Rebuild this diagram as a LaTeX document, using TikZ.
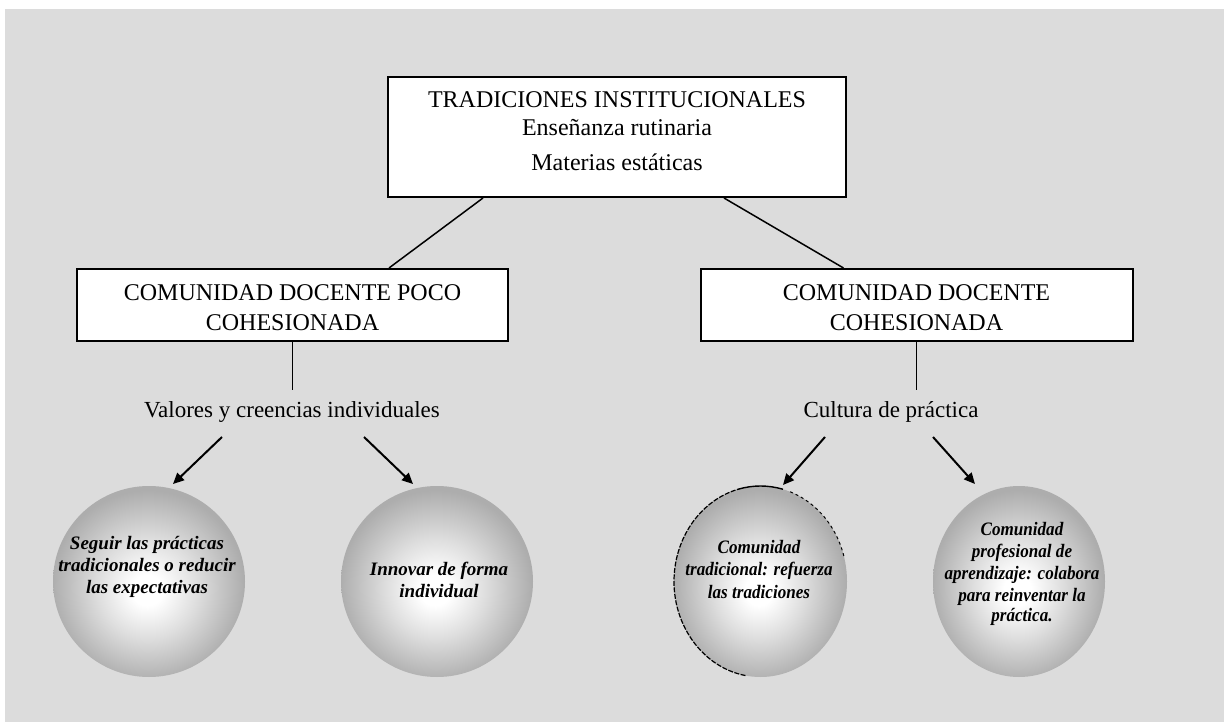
\documentclass[tikz,border=0pt]{standalone}
\usepackage{fontspec}
\setmainfont{Liberation Serif}
\newfontfamily\orbfont{Liberation Serif}
\newfontfamily\orbnarrow{Liberation Serif}[FakeStretch=0.9]
\usetikzlibrary{arrows.meta,shapes.geometric}

\definecolor{panelgray}{HTML}{DCDCDC}
\definecolor{orbgray}{gray}{0.68}
\definecolor{orbmid}{gray}{0.87}
% soft sphere look: white core slightly below the middle, grey rim
\pgfdeclareradialshading{orbshade}{\pgfpoint{-0.5bp}{-2.5bp}}{%
  color(0bp)=(white); color(4bp)=(white); color(13bp)=(orbmid); color(25bp)=(orbgray); color(50bp)=(orbgray)}

\begin{document}
\begin{tikzpicture}[x=1pt,y=-1pt,
  box/.style={draw=black, line width=2pt, fill=white, inner sep=0pt},
  boxtext/.style={anchor=base, inner sep=0pt, font=\fontsize{24}{28}\selectfont},
  labeltext/.style={anchor=base, inner sep=0pt, font=\fontsize{23}{27}\selectfont},
  orbtext/.style={anchor=base, inner sep=0pt, font=\orbfont\bfseries\itshape\fontsize{19}{22}\selectfont},
  orbtextn/.style={anchor=base, inner sep=0pt, font=\orbnarrow\bfseries\itshape\fontsize{19}{22}\selectfont},
  link/.style={line width=1.5pt, draw=black},
  arr/.style={line width=2pt, draw=black, -{Triangle[length=11pt,width=10pt]}},
  orb/.style={ellipse, inner sep=0pt, shading=orbshade, draw=none}
]
\useasboundingbox (0,0) rectangle (1224,722);
\fill[white] (0,0) rectangle (1224,722);
\fill[panelgray] (5,9) rectangle (1224,722);

% boxes
\node[box, minimum width=458pt, minimum height=120pt] (top) at (617,137) {};
\node[box, minimum width=431pt, minimum height=72pt] (left) at (292.5,305) {};
\node[box, minimum width=432pt, minimum height=72pt] (right) at (916.5,305) {};

\node[boxtext] (top1) at (617,108) {TRADICIONES INSTITUCIONALES};
\node[boxtext] (top2) at (617,136) {Enseñanza rutinaria};
\node[boxtext] (top3) at (617,171) {Materias estáticas};

\node[boxtext] (left1) at (292.5,300) {COMUNIDAD DOCENTE POCO};
\node[boxtext] (left2) at (292.5,330) {COHESIONADA};
\node[boxtext] (right1) at (916.5,300) {COMUNIDAD DOCENTE};
\node[boxtext] (right2) at (916.5,330) {COHESIONADA};

% links between the boxes
\draw[link] ([xshift=96pt]top.south west) -- ([xshift=313pt]left.north west);
\draw[link] ([xshift=337pt]top.south west) -- ([xshift=144pt]right.north west);

% stems down to the labels
\coordinate (vl) at (292.5,390);
\coordinate (vr) at (916.5,390);
\draw[link] (left.south) -- (vl);
\draw[link] (right.south) -- (vr);

\node[labeltext] (val) at (292,417) {Valores y creencias individuales};
\node[labeltext] (cul) at (891,417) {Cultura de práctica};

% spheres
\node[orb, minimum width=192pt, minimum height=191pt] (c1) at (149,581.5) {};
\node[orb, minimum width=192pt, minimum height=191pt] (c2) at (437,581.5) {};
\node[orb, minimum width=173pt, minimum height=191pt] (c3) at (760.5,581.5) {};
\node[orb, minimum width=172pt, minimum height=191pt] (c4) at (1019,581.5) {};

% broken rim on the third sphere
\draw[line width=1.2pt, dash pattern=on 5pt off 1.5pt]
  ([shift={(100:86.5 and 95.5)}]c3.center) arc[start angle=100, end angle=255, x radius=86.5, y radius=95.5];
\draw[line width=1.4pt]
  ([shift={(255:86.5 and 95.5)}]c3.center) arc[start angle=255, end angle=285, x radius=86.5, y radius=95.5];
\draw[line width=1pt, dash pattern=on 3pt off 3pt]
  ([shift={(290:86.5 and 95.5)}]c3.center) arc[start angle=290, end angle=345, x radius=86.5, y radius=95.5];

% arrows from the labels to the spheres
\coordinate (a1s) at (222,437); \coordinate (a1e) at (173,484);
\coordinate (a2s) at (364,437); \coordinate (a2e) at (413,484);
\coordinate (a3s) at (825,437); \coordinate (a3e) at (783,485);
\coordinate (a4s) at (933,437); \coordinate (a4e) at (975,484);
\draw[arr] (a1s) -- (a1e);
\draw[arr] (a2s) -- (a2e);
\draw[arr] (a3s) -- (a3e);
\draw[arr] (a4s) -- (a4e);

% sphere captions
\node[orbtext] (c1l1) at (147,549) {Seguir las prácticas};
\node[orbtext] (c1l2) at (147,571) {tradicionales o reducir};
\node[orbtext] (c1l3) at (147,593) {las expectativas};

\node[orbtext] (c2l1) at (439,575) {Innovar de forma};
\node[orbtext] (c2l2) at (439,597) {individual};

\node[orbtextn] (c3l1) at (759,553) {Comunidad};
\node[orbtextn] (c3l2) at (759,575) {tradicional: refuerza};
\node[orbtextn] (c3l3) at (759,598) {las tradiciones};

\node[orbtextn] (c4l1) at (1022,535) {Comunidad};
\node[orbtextn] (c4l2) at (1022,557) {profesional de};
\node[orbtextn] (c4l3) at (1022,579) {aprendizaje: colabora};
\node[orbtextn] (c4l4) at (1022,601) {para reinventar la};
\node[orbtextn] (c4l5) at (1022,621) {práctica.};
\end{tikzpicture}
\end{document}
